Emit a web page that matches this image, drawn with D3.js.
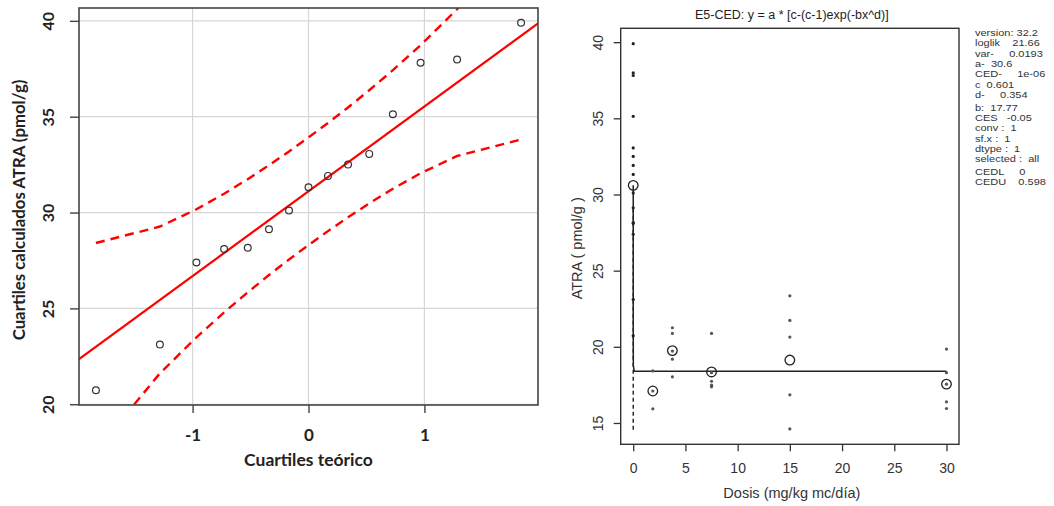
<!DOCTYPE html>
<html>
<head>
<meta charset="utf-8">
<script src="https://cdn.jsdelivr.net/npm/d3@7"></script>
<style>
  html, body { margin: 0; padding: 0; background: #fff; }
  svg { display: block; }
</style>
</head>
<body>
<svg id="chart" width="1054" height="506"></svg>
<script>
// ---------- Normal Q-Q panel ----------
const qqTheoretical = [-1.834, -1.282, -0.967, -0.728, -0.524, -0.341, -0.168, 0,
                       0.168, 0.341, 0.524, 0.728, 0.967, 1.282, 1.834];
const qqSample = [20.73, 23.11, 27.39, 28.10, 28.16, 29.13, 30.10, 31.32,
                  31.91, 32.50, 33.06, 35.13, 37.81, 37.98, 39.90];
const envelopeUpper = [28.41, 29.27, 30.17, 30.98, 31.74, 32.47, 33.19, 33.92,
                       34.67, 35.48, 36.38, 37.43, 38.73, 40.61, 44.64];
const envelopeLower = [17.58, 21.61, 23.49, 24.79, 25.84, 26.74, 27.55, 28.30,
                       29.03, 29.75, 30.48, 31.24, 32.05, 32.95, 33.81];
const refLineZ = [-1.98, 1.98];
const refLineY = [22.35, 39.87];
const qqXTicks = [-1, 0, 1];
const qqYTicks = [20, 25, 30, 35, 40];

// ---------- Dose-response panel ----------
const doses = [0, 1.875, 3.75, 7.5, 15, 30];
const responses = [
  [20.73, 23.11, 27.39, 28.10, 28.16, 29.13, 30.10, 31.32, 31.91, 32.50, 33.06, 35.13, 37.81, 37.98, 39.90],
  [18.42, 17.10, 15.93],
  [21.25, 20.88, 19.72, 19.19, 18.03],
  [20.88, 18.30, 17.74, 17.48, 17.37],
  [23.35, 21.73, 20.64, 16.85, 14.61],
  [19.85, 18.30, 17.55, 16.39, 15.95]
];
const groupMeans = [30.6, 17.1, 19.75, 18.35, 19.13, 17.55];
// E5-CED model parameters: y = a * [c - (c-1) exp(-b x^d)]
const paramA = 30.6, paramB = 17.77, paramC = 0.601, paramD = 0.354;
const fitDoses = [0, 1e-6, 1e-5, 1e-4, 1e-3, 0.01, 0.1, 1, 5, 10, 20, 30];
const cedDoseLine = [1e-6, 1e-6];
const cedAtraLine = [29.07, 14.55];
const doseTicks = [0, 5, 10, 15, 20, 25, 30];
const atraTicks = [15, 20, 25, 30, 35, 40];
const infoLines = [
  "version: 32.2",
  "loglik    21.66",
  "var-     0.0193",
  "a-  30.6",
  "CED-     1e-06",
  "c  0.601",
  "d-     0.354",
  "",
  "b:  17.77",
  "CES   -0.05",
  "conv :  1",
  "sf.x :  1",
  "dtype :  1",
  "selected :  all",
  "",
  "CEDL     0",
  "CEDU    0.598"
];

const svg = d3.select("#chart");

// ================= Left: Q-Q plot =================
(function () {
  const L = 79, R = 538, T = 8, B = 405;
  const x = d3.scaleLinear().domain([-1.98, 1.98]).range([L, R]);
  const y = d3.scaleLinear().domain([19.96, 40.67]).range([B, T]);
  const g = svg.append("g");

  g.append("clipPath").attr("id", "qqclip")
    .append("rect").attr("x", L).attr("y", T).attr("width", R - L).attr("height", B - T);

  // grid
  g.append("g").selectAll("line").data(qqXTicks).join("line")
    .attr("x1", d => x(d)).attr("x2", d => x(d)).attr("y1", T).attr("y2", B)
    .attr("stroke", "#d6d6d6").attr("stroke-width", 1.2);
  g.append("g").selectAll("line").data(qqYTicks).join("line")
    .attr("x1", L).attr("x2", R).attr("y1", d => y(d)).attr("y2", d => y(d))
    .attr("stroke", "#d6d6d6").attr("stroke-width", 1.2);

  const plot = g.append("g").attr("clip-path", "url(#qqclip)");

  // reference line
  plot.append("path")
    .datum(refLineZ.map((z, i) => [z, refLineY[i]]))
    .attr("d", d3.line().x(d => x(d[0])).y(d => y(d[1])))
    .attr("fill", "none").attr("stroke", "#ff0000").attr("stroke-width", 2.2);

  // confidence envelope
  const envLine = d3.line().x(d => x(d[0])).y(d => y(d[1]));
  [envelopeUpper, envelopeLower].forEach(arr => {
    plot.append("path")
      .datum(qqTheoretical.map((z, i) => [z, arr[i]]))
      .attr("d", envLine)
      .attr("fill", "none").attr("stroke", "#ff0000").attr("stroke-width", 2.4)
      .attr("stroke-dasharray", "9,6");
  });

  // sample points
  plot.selectAll("circle").data(qqTheoretical).join("circle")
    .attr("cx", d => x(d)).attr("cy", (d, i) => y(qqSample[i])).attr("r", 3.4)
    .attr("fill", "none").attr("stroke", "#333").attr("stroke-width", 1.2);

  // box
  g.append("rect").attr("x", L).attr("y", T).attr("width", R - L).attr("height", B - T)
    .attr("fill", "none").attr("stroke", "#444").attr("stroke-width", 1.6);

  // axes
  const fontL = "Lato, 'Open Sans', sans-serif";
  const ax = g.append("g").attr("transform", `translate(0,${B})`)
    .call(d3.axisBottom(x).tickValues(qqXTicks).tickSize(8).tickFormat(d3.format("d")));
  ax.select(".domain").remove();
  ax.selectAll("line").attr("stroke", "#444").attr("stroke-width", 1.4);
  ax.selectAll("text").attr("y", 24).attr("font-family", fontL).attr("font-weight", 700)
    .attr("font-size", 17).attr("fill", "#222").text(d => d < 0 ? "-" + Math.abs(d) : d);

  const ay = g.append("g").attr("transform", `translate(${L},0)`)
    .call(d3.axisLeft(y).tickValues(qqYTicks).tickSize(9));
  ay.select(".domain").remove();
  ay.selectAll("line").attr("stroke", "#444").attr("stroke-width", 1.4);
  ay.selectAll("text").attr("x", 0).attr("y", -25).attr("dy", 0)
    .attr("transform", "rotate(-90)").attr("text-anchor", "middle")
    .attr("font-family", fontL).attr("font-weight", 700).attr("font-size", 16).attr("fill", "#222");

  g.append("text").attr("x", (L + R) / 2).attr("y", 466).attr("text-anchor", "middle")
    .attr("font-family", fontL).attr("font-weight", 700).attr("font-size", 17.5).attr("fill", "#222")
    .text("Cuartiles teórico");
  g.append("text").attr("transform", "translate(25,210) rotate(-90)")
    .attr("text-anchor", "middle")
    .attr("font-family", fontL).attr("font-weight", 700).attr("font-size", 16.8).attr("fill", "#222")
    .text("Cuartiles calculados ATRA (pmol/g)");
})();

// ================= Right: dose-response fit =================
(function () {
  const L = 620.7, R = 959, T = 28.3, B = 444.3;
  const x = d3.scaleLinear().domain([-1.2, 31.2]).range([L, R]);
  const y = d3.scaleLinear().domain([13.6, 40.91]).range([B, T]);
  const g = svg.append("g");
  const fontR = "'Liberation Sans', Arial, sans-serif";
  const ink = "#333";

  // fitted curve
  const model = dd => paramA * (paramC - (paramC - 1) * Math.exp(-paramB * Math.pow(dd, paramD)));
  g.append("path")
    .datum(fitDoses.map(dd => [dd, model(dd)]))
    .attr("d", d3.line().x(d => x(d[0])).y(d => y(d[1])))
    .attr("fill", "none").attr("stroke", "#222").attr("stroke-width", 1.5);

  // CED marker line
  g.append("path")
    .datum(cedDoseLine.map((dd, i) => [dd, cedAtraLine[i]]))
    .attr("d", d3.line().x(d => x(d[0])).y(d => y(d[1])))
    .attr("fill", "none").attr("stroke", "#222").attr("stroke-width", 1.4)
    .attr("stroke-dasharray", "4,3");

  // observations
  const obs = [];
  responses.forEach((vals, i) => vals.forEach(v => obs.push([doses[i], v])));
  g.append("g").selectAll("circle").data(obs).join("circle")
    .attr("cx", d => x(d[0])).attr("cy", d => y(d[1])).attr("r", 1.6)
    .attr("fill", d => d[0] === 0 ? "#222" : "#555");

  // group means
  g.append("g").selectAll("circle").data(doses).join("circle")
    .attr("cx", d => x(d)).attr("cy", (d, i) => y(groupMeans[i])).attr("r", 4.8)
    .attr("fill", "none").attr("stroke", "#222").attr("stroke-width", 1.3);

  // box
  g.append("rect").attr("x", L).attr("y", T).attr("width", R - L).attr("height", B - T)
    .attr("fill", "none").attr("stroke", ink).attr("stroke-width", 1.4);

  // axes
  const ax = g.append("g").attr("transform", `translate(0,${B})`)
    .call(d3.axisBottom(x).tickValues(doseTicks).tickSize(7));
  ax.select(".domain").remove();
  ax.selectAll("line").attr("stroke", ink).attr("stroke-width", 1.3);
  ax.selectAll("text").attr("y", 19).attr("font-family", fontR).attr("font-size", 14).attr("fill", ink);

  const ay = g.append("g").attr("transform", `translate(${L},0)`)
    .call(d3.axisLeft(y).tickValues(atraTicks).tickSize(7));
  ay.select(".domain").remove();
  ay.selectAll("line").attr("stroke", ink).attr("stroke-width", 1.3);
  ay.selectAll("text").attr("x", 0).attr("y", -17.5).attr("dy", 0)
    .attr("transform", "rotate(-90)").attr("text-anchor", "middle")
    .attr("font-family", fontR).attr("font-size", 14).attr("fill", ink);

  g.append("text").attr("x", (L + R) / 2 + 2).attr("y", 19).attr("text-anchor", "middle")
    .attr("font-family", fontR).attr("font-size", 12.5).attr("fill", "#222")
    .text("E5-CED: y = a * [c-(c-1)exp(-bx^d)]");
  g.append("text").attr("x", (L + R) / 2 + 2).attr("y", 498).attr("text-anchor", "middle")
    .attr("font-family", fontR).attr("font-size", 14.5).attr("fill", ink)
    .text("Dosis (mg/kg mc/día)");
  g.append("text").attr("transform", `translate(582,${(T + B) / 2 + 12}) rotate(-90)`)
    .attr("text-anchor", "middle")
    .attr("font-family", fontR).attr("font-size", 14.5).attr("fill", ink)
    .text("ATRA ( pmol/g )");

  // fit summary, compact lines slightly widened
  let ty = 36;
  const info = g.append("g");
  infoLines.forEach(line => {
    if (line === "") { ty += 2.5; return; }
    info.append("text")
      .attr("transform", `translate(975,${ty}) scale(1.25,1)`)
      .attr("xml:space", "preserve").style("white-space", "pre")
      .attr("font-family", fontR).attr("font-size", 8.8).attr("fill", "#333")
      .text(line);
    ty += 10.3;
  });
})();
</script>
</body>
</html>
